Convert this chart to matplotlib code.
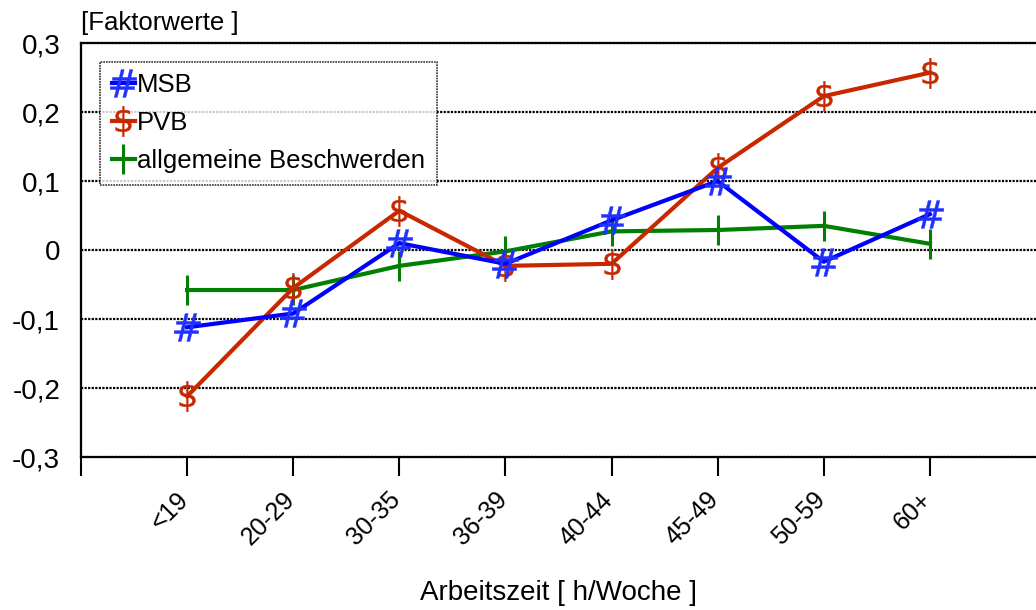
import matplotlib
matplotlib.use("Agg")
import matplotlib.pyplot as plt
from matplotlib.transforms import ScaledTranslation

plt.rcParams["font.family"] = ["Liberation Sans", "DejaVu Sans"]

categories = ["<19", "20-29", "30-35", "36-39", "40-44", "45-49", "50-59", "60+"]
msb = [-0.112, -0.092, 0.010, -0.020, 0.043, 0.100, -0.017, 0.052]
pvb = [-0.212, -0.055, 0.057, -0.023, -0.020, 0.119, 0.223, 0.257]
allg = [-0.058, -0.058, -0.023, -0.002, 0.027, 0.029, 0.035, 0.009]
yticks = [-0.3, -0.2, -0.1, 0, 0.1, 0.2, 0.3]
ytick_labels = ["-0,3", "-0,2", "-0,1", "0", "0,1", "0,2", "0,3"]

fig = plt.figure(figsize=(10.36, 6.1), dpi=100)
ax = fig.add_axes([0.0782, 0.2508, 0.9218, 0.6787])

x = list(range(len(categories)))
ax.plot(x, msb, color="#0000FF", lw=3, marker="$\\#$", ms=20,
        mec="#2030FF", mfc="#2030FF", mew=0.3, label="MSB", zorder=4)
ax.plot(x, pvb, color="#C82800", lw=3, marker="$\\$$", ms=22,
        mec="#C82800", mfc="#C82800", mew=0.3, label="PVB", zorder=3)
ax.plot(x, allg, color="#008000", lw=3, marker="|", ms=22, mew=2.2,
        mec="#008000", label="allgemeine Beschwerden", zorder=2)

ax.set_xlim(-1, 8)
ax.set_ylim(-0.3, 0.3)
ax.set_yticks(yticks)
ax.set_yticklabels(ytick_labels, fontsize=20)
ax.set_xticks([-1] + x)
ax.set_xticklabels([""] + categories, rotation=45, ha="right", fontsize=18)
ax.tick_params(axis="x", length=14, width=1.5, direction="out", pad=8)
ax.tick_params(axis="y", length=0, pad=15)
shift = ScaledTranslation(6 / 100, 0, fig.dpi_scale_trans)
for lab in ax.get_xticklabels():
    lab.set_transform(lab.get_transform() + shift)

for yv in [-0.2, -0.1, 0, 0.1, 0.2]:
    ax.axhline(yv, color="black", lw=1.6, ls=(0, (1, 0.6)), zorder=1)

for side in ["left", "bottom", "top"]:
    ax.spines[side].set_linestyle((0, (1, 0.6)))
    ax.spines[side].set_linewidth(1.6)
ax.spines["right"].set_visible(False)

ax.text(-1, 0.312, "[Faktorwerte ]", fontsize=18.5, ha="left", va="bottom")
fig.text(0.539, 0.028, "Arbeitszeit [ h/Woche ]", fontsize=20,
         ha="center", va="center")

leg = ax.legend(loc="upper left", bbox_to_anchor=(0.02, 0.955), fontsize=18.5,
                frameon=True, fancybox=False, handlelength=0.9,
                handletextpad=0.1, borderpad=0.45, labelspacing=0.55,
                borderaxespad=0)
leg.get_frame().set_edgecolor("black")
leg.get_frame().set_linestyle((0, (1, 0.6)))
leg.get_frame().set_linewidth(1.2)

fig.savefig("out.png", dpi=100)
